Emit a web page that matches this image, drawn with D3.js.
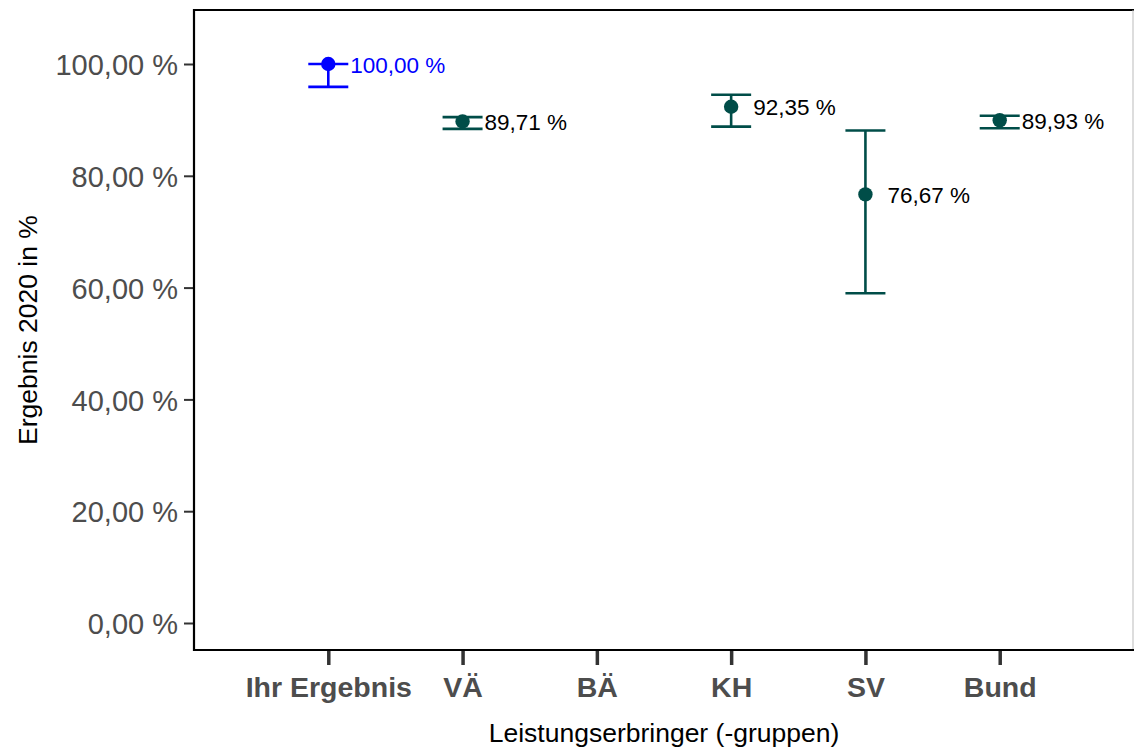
<!DOCTYPE html>
<html><head><meta charset="utf-8">
<script src="https://cdn.jsdelivr.net/npm/d3@7"></script>
<style>body{margin:0;background:#fff}svg{display:block}text{font-family:"Liberation Sans",Arial,Helvetica,sans-serif}</style>
</head><body>
<svg id="c" width="1134" height="753"></svg>
<script>
const categories = ["Ihr Ergebnis", "VÄ", "BÄ", "KH", "SV", "Bund"];
const values = [100.00, 89.71, null, 92.35, 76.67, 89.93];
const lower = [95.9, 88.4, null, 88.8, 59.0, 88.5];
const upper = [100.0, 90.5, null, 94.5, 88.1, 90.75];
const colors = ["#0000FF", "#004D48", "#004D48", "#004D48", "#004D48", "#004D48"];
const yTicks = [0, 20, 40, 60, 80, 100];

const svg = d3.select("#c");
const L = 194, R = 1134, T = 10, B = 650;
const x = d3.scaleLinear().domain([0, categories.length + 1]).range([L, R]);
const y = d3.scaleLinear().domain([-4.83, 109.66]).range([B, T]);
const fmt = v => d3.format(".2f")(v).replace(".", ",") + " %";

// panel border
svg.append("line").attr("x1", L).attr("x2", R).attr("y1", T).attr("y2", T).attr("stroke", "#000").attr("stroke-width", 2);
svg.append("line").attr("x1", R - 1).attr("x2", R - 1).attr("y1", T).attr("y2", B).attr("stroke", "#bbb").attr("stroke-width", 1);

// y axis
const yAxis = d3.axisLeft(y).tickValues(yTicks).tickSize(10).tickPadding(6).tickFormat(fmt);
const gy = svg.append("g").attr("transform", `translate(${L},0)`).call(yAxis);
gy.select(".domain").remove();
gy.selectAll(".tick line").attr("stroke", "#333").attr("stroke-width", 2);
gy.selectAll(".tick text").attr("fill", "#4d4d4d").style("font-size", "29px").attr("dy", "0.37em");

// x axis
const xAxis = d3.axisBottom(x).tickValues(d3.range(1, categories.length + 1)).tickSize(15).tickPadding(10)
  .tickFormat(i => categories[i - 1]);
const gx = svg.append("g").attr("transform", `translate(0,${B})`).call(xAxis);
gx.select(".domain").remove();
gx.selectAll(".tick line").attr("stroke", "#333").attr("stroke-width", 3.5);
gx.selectAll(".tick text").attr("fill", "#4d4d4d").style("font-size", "28.5px").style("font-weight", "bold").attr("dy", "0.77em");

// axis lines
svg.append("line").attr("x1", L).attr("x2", L).attr("y1", T - 1).attr("y2", B + 1).attr("stroke", "#000").attr("stroke-width", 2.2);
svg.append("line").attr("x1", L).attr("x2", R).attr("y1", B).attr("y2", B).attr("stroke", "#000").attr("stroke-width", 2.2);

// titles
svg.append("text").attr("x", (L + R) / 2).attr("y", 742).attr("text-anchor", "middle")
  .style("font-size", "26.5px").attr("fill", "#000").text("Leistungserbringer (-gruppen)");
svg.append("text").attr("transform", `translate(37,${(T + B) / 2}) rotate(-90)`).attr("text-anchor", "middle")
  .style("font-size", "26.5px").attr("fill", "#000").text("Ergebnis 2020 in %");

// data
const data = categories.map((c, i) => ({ c, i: i + 1, v: values[i], lo: lower[i], hi: upper[i], col: colors[i] }))
  .filter(d => d.v != null);
const g = svg.append("g");
const cap = 20;
const sw = 2.6;
data.forEach(d => {
  const cx = x(d.i);
  g.append("line").attr("x1", cx).attr("x2", cx).attr("y1", y(d.lo)).attr("y2", y(d.hi)).attr("stroke", d.col).attr("stroke-width", sw);
  g.append("line").attr("x1", cx - cap).attr("x2", cx + cap).attr("y1", y(d.lo)).attr("y2", y(d.lo)).attr("stroke", d.col).attr("stroke-width", sw);
  g.append("line").attr("x1", cx - cap).attr("x2", cx + cap).attr("y1", y(d.hi)).attr("y2", y(d.hi)).attr("stroke", d.col).attr("stroke-width", sw);
  g.append("circle").attr("cx", cx).attr("cy", y(d.v)).attr("r", 7.2).attr("fill", d.col);
  g.append("text").attr("x", cx + 22).attr("y", y(d.v)).attr("dy", "0.38em").style("font-size", "22.5px")
    .attr("fill", d.i === 1 ? d.col : "#000").text(fmt(d.v));
});
</script>
</body></html>
